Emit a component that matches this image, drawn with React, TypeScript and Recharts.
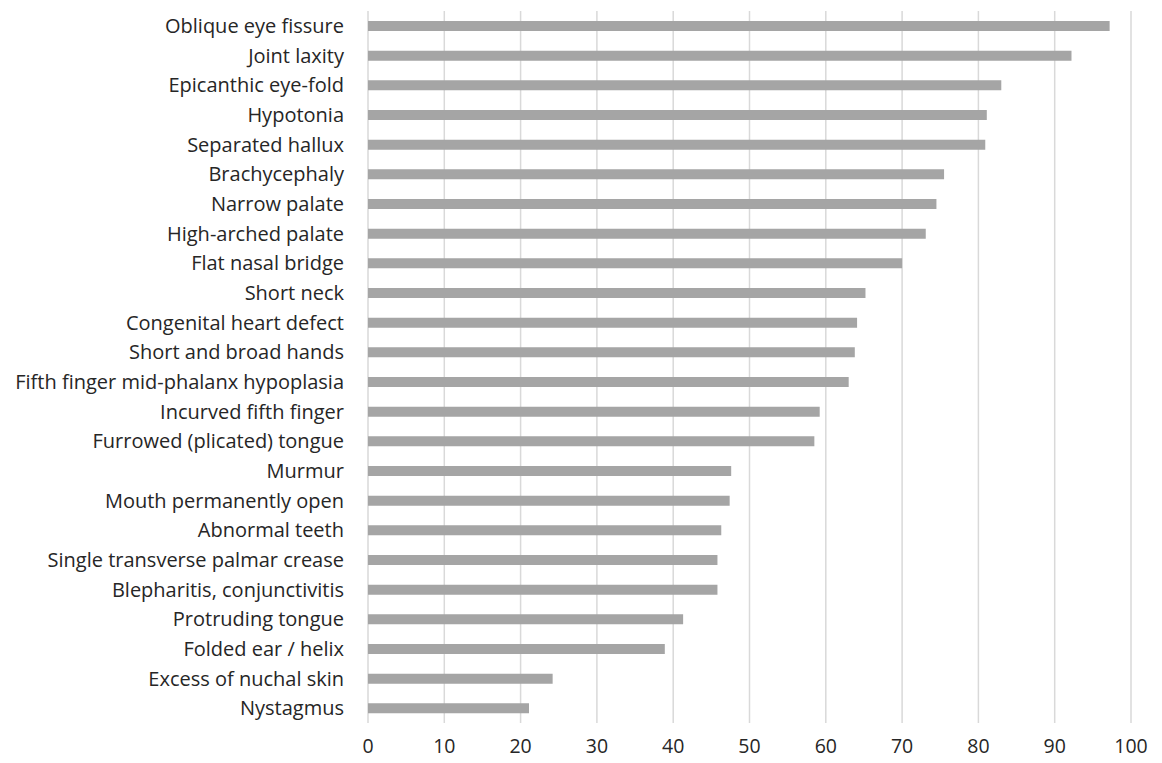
import { BarChart, Bar, XAxis, YAxis, CartesianGrid } from "recharts";

const features = [
  "Oblique eye fissure",
  "Joint laxity",
  "Epicanthic eye-fold",
  "Hypotonia",
  "Separated hallux",
  "Brachycephaly",
  "Narrow palate",
  "High-arched palate",
  "Flat nasal bridge",
  "Short neck",
  "Congenital heart defect",
  "Short and broad hands",
  "Fifth finger mid-phalanx hypoplasia",
  "Incurved fifth finger",
  "Furrowed (plicated) tongue",
  "Murmur",
  "Mouth permanently open",
  "Abnormal teeth",
  "Single transverse palmar crease",
  "Blepharitis, conjunctivitis",
  "Protruding tongue",
  "Folded ear / helix",
  "Excess of nuchal skin",
  "Nystagmus",
];

const percentages = [
  97.2, 92.2, 83.0, 81.1, 80.9, 75.5, 74.5, 73.1, 70.0, 65.2, 64.1, 63.8, 63.0,
  59.2, 58.5, 47.6, 47.4, 46.3, 45.8, 45.8, 41.3, 38.9, 24.2, 21.1,
];

const xTicks = [0, 10, 20, 30, 40, 50, 60, 70, 80, 90, 100];

const data = features.map((name, i) => ({ name, value: percentages[i] }));

const font = "'Open Sans', sans-serif";

export default function App() {
  return (
    <div style={{ position: "absolute", left: 0, top: 0, background: "#fff" }}>
      <BarChart
        width={1162}
        height={763}
        data={data}
        layout="vertical"
        margin={{ top: 11, right: 31, bottom: 10, left: 0 }}
        barCategoryGap={0}
      >
        <CartesianGrid horizontal={false} stroke="#d9d9d9" strokeWidth={1.5} />
        <XAxis
          type="number"
          domain={[0, 100]}
          ticks={xTicks}
          axisLine={false}
          tickLine={false}
          height={30}
          tickMargin={10}
          tick={{ fill: "#262626", fontSize: 19.5, fontFamily: font }}
        />
        <YAxis
          type="category"
          dataKey="name"
          width={368}
          axisLine={false}
          tickLine={false}
          tickMargin={18}
          interval={0}
          tick={{ fill: "#262626", fontSize: 20, fontFamily: font }}
        />
        <Bar dataKey="value" fill="#a5a5a5" barSize={10} isAnimationActive={false} />
      </BarChart>
    </div>
  );
}
